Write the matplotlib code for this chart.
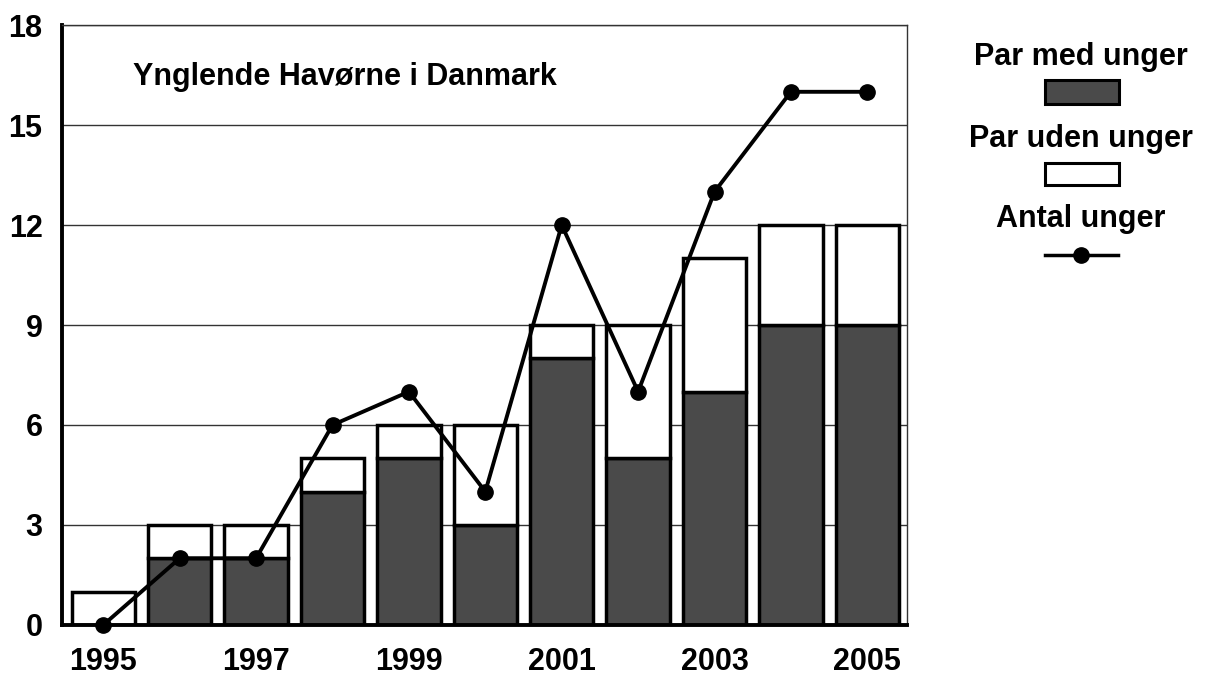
import numpy as np
import matplotlib.pyplot as plt
from matplotlib.patches import Rectangle
from matplotlib.lines import Line2D

plt.rcParams['font.family'] = ['Liberation Sans', 'DejaVu Sans']
plt.rcParams['font.weight'] = 'bold'

years = [1995, 1996, 1997, 1998, 1999, 2000, 2001, 2002, 2003, 2004, 2005]
par_med_unger = [0, 2, 2, 4, 5, 3, 8, 5, 7, 9, 9]
par_uden_unger = [1, 1, 1, 1, 1, 3, 1, 4, 4, 3, 3]
antal_unger = [0, 2, 2, 6, 7, 4, 12, 7, 13, 16, 16]

y_ticks = [0, 3, 6, 9, 12, 15, 18]
x_ticks = [1995, 1997, 1999, 2001, 2003, 2005]

dark = '#4a4a4a'
fs = 22

fig = plt.figure(figsize=(12.07, 6.80), dpi=100)
ax = fig.add_axes([0.0514, 0.081, 0.7001, 0.882])

# stacked bars
ax.bar(years, par_med_unger, width=0.83, color=dark, edgecolor='black',
       linewidth=2.5, zorder=2)
ax.bar(years, par_uden_unger, width=0.83, bottom=par_med_unger, color='white',
       edgecolor='black', linewidth=2.5, zorder=2)

# number of chicks
ax.plot(years, antal_unger, color='black', linewidth=2.8, marker='o',
        markersize=11, zorder=3, clip_on=False)

ax.set_xlim(1994.46, 2005.52)
ax.set_ylim(0, 18)
ax.set_yticks(y_ticks)
ax.set_xticks(x_ticks)
ax.tick_params(axis='both', length=0, labelsize=fs)
ax.tick_params(axis='y', pad=14)
ax.tick_params(axis='x', pad=16)

ax.set_axisbelow(True)
ax.yaxis.grid(True, color='#333333', linewidth=1.0)
for side in ['left', 'bottom']:
    ax.spines[side].set_linewidth(2.8)
for side in ['right', 'top']:
    ax.spines[side].set_linewidth(1.0)
    ax.spines[side].set_color('#333333')

ax.text(0.084, 0.913, 'Ynglende Havørne i Danmark', transform=ax.transAxes,
        fontsize=fs, va='center', ha='left')

# legend on the right, labels above their keys
W, H = 1207.0, 680.0
cx = 1081


def fx(px):
    return px / W


def fy(py):
    return 1 - py / H


fig.text(fx(cx), fy(57), 'Par med unger', fontsize=fs, ha='center', va='center')
fig.patches.append(Rectangle((fx(1045), fy(104)), fx(74), 24 / H,
                             transform=fig.transFigure, facecolor=dark,
                             edgecolor='black', linewidth=2.2))
fig.text(fx(cx), fy(139), 'Par uden unger', fontsize=fs, ha='center', va='center')
fig.patches.append(Rectangle((fx(1045), fy(185)), fx(74), 22 / H,
                             transform=fig.transFigure, facecolor='white',
                             edgecolor='black', linewidth=2.2))
fig.text(fx(cx), fy(219), 'Antal unger', fontsize=fs, ha='center', va='center')
fig.lines.append(Line2D([fx(1045), fx(1118)], [fy(255), fy(255)],
                        transform=fig.transFigure, color='black', linewidth=2.5))
fig.lines.append(Line2D([fx(cx)], [fy(255)], transform=fig.transFigure,
                        color='black', marker='o', markersize=11))

fig.savefig('out.png', dpi=100)
